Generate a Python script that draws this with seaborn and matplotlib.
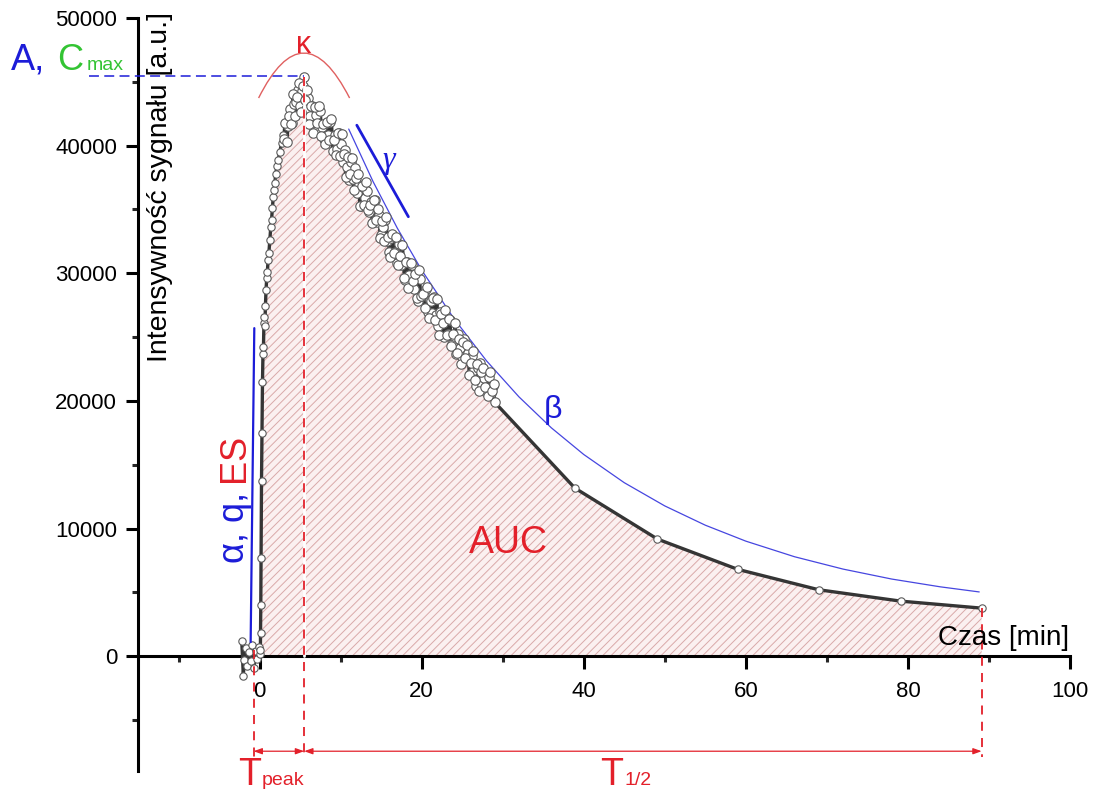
import numpy as np
import pandas as pd
import matplotlib
matplotlib.use("Agg")
import matplotlib.pyplot as plt
import seaborn as sns
from matplotlib.ticker import MultipleLocator
from matplotlib.path import Path
from matplotlib.patches import PathPatch

# ---------------- data ----------------
pre_t = [-2.2, -2.0, -1.9, -1.7, -1.5, -1.3, -1.1, -0.9, -0.7, -0.5, -0.3, -0.1, 0.05]
pre_sig = [1200, -1550, -300, 600, -800, 300, -400, 900, -950, 400, -200, 700, 200]

rise_t = [0.10, 0.12, 0.15, 0.18, 0.24, 0.30, 0.36, 0.42, 0.48, 0.54, 0.60, 0.66, 0.72,
          0.80, 0.88, 0.96, 1.05, 1.15, 1.27, 1.38, 1.48, 1.58, 1.69, 1.79, 1.89, 2.00,
          2.15, 2.30, 2.50, 2.72, 2.88]
rise_sig = [500, 1800, 4000, 7700, 13700, 17500, 21500, 23700, 24200, 26100, 26600, 25900,
            27400, 28700, 29600, 30100, 31000, 31600, 32600, 33600, 34200, 35100, 36000,
            36500, 37100, 37800, 38400, 38900, 39500, 40200, 40800]

dense_t = [3.00, 3.25, 3.50, 3.75, 4.00, 4.25, 4.50, 4.75, 5.00, 5.25,
           5.50, 5.75, 6.00, 6.25, 6.50, 6.75, 7.00, 7.25, 7.50, 7.75,
           8.00, 8.25, 8.50, 8.75, 9.00, 9.25, 9.50, 9.75, 10.00, 10.25,
           10.50, 10.75, 11.00, 11.25, 11.50, 11.75, 12.00, 12.25, 12.50, 12.75,
           13.00, 13.25, 13.50, 13.75, 14.00, 14.25, 14.50, 14.75, 15.00, 15.25,
           15.50, 15.75, 16.00, 16.25, 16.50, 16.75, 17.00, 17.25, 17.50, 17.75,
           18.00, 18.25, 18.50, 18.75, 19.00, 19.25, 19.50, 19.75, 20.00, 20.25,
           20.50, 20.75, 21.00, 21.25, 21.50, 21.75, 22.00, 22.25, 22.50, 22.75,
           23.00, 23.25, 23.50, 23.75, 24.00, 24.25, 24.50, 24.75, 25.00, 25.25,
           25.50, 25.75, 26.00, 26.25, 26.50, 26.75, 27.00, 27.25, 27.50, 27.75,
           28.00, 28.25, 28.50, 28.75, 29.00]
dense_sig = [40500, 41800, 41500, 42900, 41800, 43300, 43400, 44350, 43100, 44300,
             45400, 42900, 43700, 42300, 43100, 41200, 42400, 41300, 42750, 41480,
             40500, 41750, 40800, 41850, 39600, 40830, 39750, 40980, 40100, 38680,
             39650, 38330, 37300, 38680, 37350, 38230, 36300, 36930, 35250, 36780,
             35900, 36450, 34800, 35550, 34000, 35730, 34050, 34580, 33000, 33650,
             34200, 32550, 31700, 32800, 32900, 31700, 30800, 32330, 30650, 30980,
             29500, 30850, 29900, 30650, 28800, 29650, 27800, 29550, 28200, 28280,
             28750, 26930, 27900, 26880, 28150, 26730, 25900, 27000, 26400, 25000,
             26500, 25250, 26300, 24450, 25100, 23680, 25250, 24130, 23400, 24850,
             23200, 23750, 22100, 23500, 22400, 21200, 22600, 22930, 21250, 21780,
             20700, 21880, 20650, 21130, 19900]

dense2_t = [3.125, 3.375, 3.625, 3.875, 4.125, 4.375, 4.625, 4.875, 5.125, 5.375,
            5.625, 5.875, 6.125, 6.375, 6.625, 6.875, 7.125, 7.375, 7.625, 7.875,
            8.125, 8.375, 8.625, 8.875, 9.125, 9.375, 9.625, 9.875, 10.125, 10.375,
            10.625, 10.875, 11.125, 11.375, 11.625, 11.875, 12.125, 12.375, 12.625, 12.875,
            13.125, 13.375, 13.625, 13.875, 14.125, 14.375, 14.625, 14.875, 15.125, 15.375,
            15.625, 15.875, 16.125, 16.375, 16.625, 16.875, 17.125, 17.375, 17.625, 17.875,
            18.125, 18.375, 18.625, 18.875, 19.125, 19.375, 19.625, 19.875, 20.125, 20.375,
            20.625, 20.875, 21.125, 21.375, 21.625, 21.875, 22.125, 22.375, 22.625, 22.875,
            23.125, 23.375, 23.625, 23.875, 24.125, 24.375, 24.625, 24.875, 25.125, 25.375,
            25.625, 25.875, 26.125, 26.375, 26.625, 26.875, 27.125, 27.375, 27.625, 27.875,
            28.125, 28.375, 28.625, 28.875]
dense2_sig = [41800, 40300, 42300, 41700, 44050, 42350, 43825, 44875, 42650, 44650,
              43550, 44350, 41700, 43100, 41000, 43000, 41810, 43140, 40760, 41690,
              40125, 41875, 40425, 42075, 40410, 39240, 40960, 39190, 40890, 39360,
              37540, 39110, 37740, 39010, 36490, 37460, 37760, 35290, 36810, 35340,
              37175, 34925, 35375, 33925, 35760, 34190, 35010, 32740, 34075, 32525,
              34375, 32825, 31250, 33050, 31550, 32850, 30660, 31390, 32210, 29640,
              30875, 28825, 30775, 29425, 29975, 28025, 30275, 28225, 28390, 27260,
              28940, 26510, 27790, 28060, 26340, 28010, 25200, 26800, 26100, 27100,
              25175, 26425, 24275, 25225, 26090, 23760, 24840, 22910, 24575, 23325,
              24375, 22025, 23000, 23900, 21600, 22900, 20810, 22240, 22560, 21090,
              20390, 22260, 20740, 21310]

late_t = [38.9, 49.1, 59.0, 69.0, 79.1, 89.1]
late_sig = [13170, 9170, 6800, 5200, 4310, 3760]

# beta (fitted decay) guide curve
beta_t = [11, 14, 17, 20, 24, 28, 32, 36, 40, 45, 50, 55, 60, 66, 72, 78, 84, 88.8]
beta_sig = [41300, 37190, 33530, 30250, 26430, 23140, 20320, 17890, 15800, 13590,
            11770, 10260, 9010, 7790, 6820, 6040, 5430, 5030]

peak_t = 5.5
peak_sig = 45400
start_t = -0.74
end_t = 89.1

xticks = [0, 20, 40, 60, 80, 100]
yticks = [0, 10000, 20000, 30000, 40000, 50000]

# ---------------- styling ----------------
sns.set_style("ticks")
plt.rcParams["font.family"] = ["Liberation Sans", "DejaVu Sans"]
plt.rcParams["hatch.linewidth"] = 0.7

RED = "#e3202a"
BLUE = "#1c1cd8"
GREEN = "#33c433"

W, H = 1097, 791
fig = plt.figure(figsize=(W / 100, H / 100), dpi=100)
ax = fig.add_axes([138 / W, 20 / H, 932 / W, 753 / H])
ax.set_facecolor("white")


def px(x, y):
    return (x / W, 1 - y / H)


sparse_df = pd.DataFrame({"t": pre_t + rise_t + late_t,
                          "sig": pre_sig + rise_sig + late_sig})
dense_df = pd.DataFrame({"t": dense_t + dense2_t, "sig": dense_sig + dense2_sig})
df = pd.concat([sparse_df, dense_df]).sort_values("t").reset_index(drop=True)
fill_df = df[df["t"] >= 0.1]

# AUC hatched area
ax.fill_between(fill_df["t"], 0, fill_df["sig"], facecolor="#fbf0f0",
                edgecolor="#d9a9a9", hatch="////", linewidth=0, zorder=1)

# beta guide
beta_df = pd.DataFrame({"t": beta_t, "sig": beta_sig})
sns.lineplot(data=beta_df, x="t", y="sig", sort=False, estimator=None,
             color="#4646e0", linewidth=0.9, ax=ax, zorder=2)

# data line + markers
sns.lineplot(data=df, x="t", y="sig", sort=False, estimator=None,
             color="#353535", linewidth=2.4, ax=ax, zorder=3)
sns.scatterplot(data=sparse_df, x="t", y="sig", s=28, color="white", edgecolor="#5a5a5a",
                linewidth=0.8, ax=ax, zorder=4)
sns.scatterplot(data=dense_df, x="t", y="sig", s=46, color="white", edgecolor="#5a5a5a",
                linewidth=0.8, ax=ax, zorder=4)

ax.set_xlim(-15, 100)
ax.set_ylim(-9000, 50000)
ax.set_xlabel("")
ax.set_ylabel("")

for s in ["top", "right"]:
    ax.spines[s].set_visible(False)
ax.spines["bottom"].set_position(("data", 0))
for s in ["bottom", "left"]:
    ax.spines[s].set_linewidth(2.2)
    ax.spines[s].set_color("black")

ax.set_xticks(xticks)
ax.set_yticks(yticks)
ax.xaxis.set_minor_locator(MultipleLocator(10))
ax.yaxis.set_minor_locator(MultipleLocator(5000))
ax.tick_params(which="major", direction="out", length=9, width=2.2, labelsize=16, pad=6,
               colors="black")
ax.tick_params(which="minor", direction="out", length=4.5, width=2.2)
ax.tick_params(axis="x", pad=9)

# axis titles
ax.text(-12.3, 50470, "Intensywność sygnału [a.u.]", rotation=90, ha="center", va="top",
        fontsize=20.5, color="black", clip_on=False, zorder=6)
ax.text(99.9, 860, "Czas [min]", ha="right", va="baseline", fontsize=20, color="black",
        zorder=6)

# Cmax dashed line
ax.plot([-21.1, peak_t], [45450, 45450], ls=(0, (6.5, 3.5)), color=BLUE, lw=1.1,
        clip_on=False, zorder=5)
fig.text(*px(11, 70), "A,", color=BLUE, fontsize=26, ha="left", va="baseline")
fig.text(*px(57, 70), "C", color=GREEN, fontsize=26, ha="left", va="baseline")
fig.text(*px(87, 70), "max", color=GREEN, fontsize=14, ha="left", va="baseline")

# kappa arc (quadratic Bezier)
arc = Path([(-0.12, 43730), (5.43, 50780), (11.11, 43730)],
           [Path.MOVETO, Path.CURVE3, Path.CURVE3])
ax.add_patch(PathPatch(arc, facecolor="none", edgecolor="#e06060", lw=1.0, zorder=5,
                       clip_on=False))
ax.text(5.4, 47900, "κ", color=RED, fontsize=22, ha="center", va="center", zorder=6)

# gamma
ax.plot([12.0, 18.36], [41600, 34430], color=BLUE, lw=2.0, zorder=5)
ax.text(15.9, 38870, "γ", color=BLUE, fontsize=23, ha="center", va="center",
        family=["Liberation Serif", "DejaVu Serif"], style="italic", zorder=6)

# beta label
ax.text(36.2, 19280, "β", color=BLUE, fontsize=23, ha="center", va="center", zorder=6)

# AUC
ax.text(30.7, 8860, "AUC", color=RED, fontsize=27, ha="center", va="center", zorder=6)

# alpha/q/ES upslope
ax.plot([-1.1, -0.65], [1100, 25700], color=BLUE, lw=1.6, zorder=5)
t1 = ax.text(-3.1, 7290, "α, q, ", rotation=90, ha="center", va="bottom", color=BLUE,
             fontsize=26, zorder=6)
ax.annotate("ES", xy=(0.5, 1.0), xycoords=t1, rotation=90, ha="center", va="bottom",
            color=RED, fontsize=26, zorder=6)

# vertical markers
ax.plot([peak_t, peak_t], [0, peak_sig], color="white", lw=2.0, zorder=4.5)
ax.plot([peak_t, peak_t], [peak_sig, -7900], ls=(0, (5, 4)), color=RED, lw=1.3,
        clip_on=False, zorder=5)
ax.plot([start_t, start_t], [500, -7900], ls=(0, (5, 4)), color=RED, lw=1.3,
        clip_on=False, zorder=5)
ax.plot([end_t, end_t], [late_sig[-1], -7900], ls=(0, (5, 4)), color=RED, lw=1.3,
        clip_on=False, zorder=5)

arrow_kw = dict(arrowstyle="<|-|>,head_length=0.5,head_width=0.18", color=RED, lw=0.9,
                shrinkA=0, shrinkB=0)
ax.annotate("", xy=(start_t, -7450), xytext=(peak_t, -7450), arrowprops=arrow_kw,
            annotation_clip=False)
ax.annotate("", xy=(peak_t, -7450), xytext=(end_t, -7450), arrowprops=arrow_kw,
            annotation_clip=False)

fig.text(*px(238, 785), "T", color=RED, fontsize=27, ha="left", va="baseline")
fig.text(*px(262, 785), "peak", color=RED, fontsize=14, ha="left", va="baseline")
fig.text(*px(600, 785), "T", color=RED, fontsize=27, ha="left", va="baseline")
fig.text(*px(625, 785), "1/2", color=RED, fontsize=14, ha="left", va="baseline")

fig.savefig("out.png", dpi=100, facecolor="white")
